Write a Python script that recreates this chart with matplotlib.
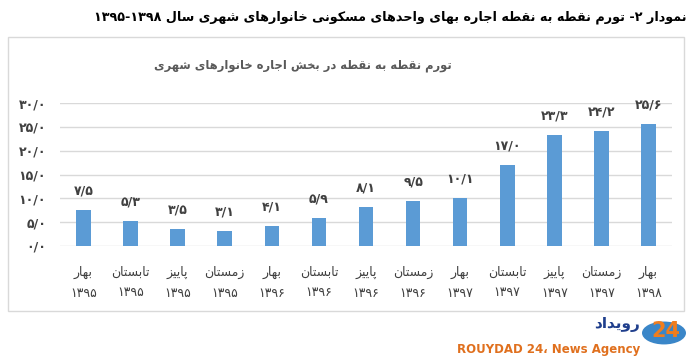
import matplotlib
matplotlib.use("Agg")
import matplotlib.pyplot as plt
from matplotlib.patches import Rectangle, Circle

# data
seasons = ["بهار", "تابستان", "پاییز", "زمستان",
           "بهار", "تابستان", "پاییز", "زمستان",
           "بهار", "تابستان", "پاییز", "زمستان",
           "بهار"]
years = ["1395", "1395", "1395", "1395",
         "1396", "1396", "1396", "1396",
         "1397", "1397", "1397", "1397",
         "1398"]
values = [7.5, 5.3, 3.5, 3.1, 4.1, 5.9, 8.1, 9.5, 10.1, 17.0, 23.3, 24.2, 25.6]
yticks = [0, 5, 10, 15, 20, 25, 30]

title_text = "تورم نقطه به نقطه اجاره بهای واحدهای مسکونی خانوارهای شهری سال"
title_head = "نمودار"
title_years = "1395-1398"
subtitle_text = "تورم نقطه به نقطه در بخش اجاره خانوارهای شهری"

BAR = "#5B9BD5"
GRID = "#D9D9D9"
TXT = "#404040"

# --- minimal Persian shaping (matplotlib 3.10 has no complex text layout)
FORMS = {
    "\u0627": ("\uFE8D", "\uFE8E", None, None),
    "\u0628": ("\uFE8F", "\uFE90", "\uFE91", "\uFE92"),
    "\u067E": ("\uFB56", "\uFB57", "\uFB58", "\uFB59"),
    "\u062A": ("\uFE95", "\uFE96", "\uFE97", "\uFE98"),
    "\u062C": ("\uFE9D", "\uFE9E", "\uFE9F", "\uFEA0"),
    "\u062D": ("\uFEA1", "\uFEA2", "\uFEA3", "\uFEA4"),
    "\u062E": ("\uFEA5", "\uFEA6", "\uFEA7", "\uFEA8"),
    "\u062F": ("\uFEA9", "\uFEAA", None, None),
    "\u0631": ("\uFEAD", "\uFEAE", None, None),
    "\u0632": ("\uFEAF", "\uFEB0", None, None),
    "\u0633": ("\uFEB1", "\uFEB2", "\uFEB3", "\uFEB4"),
    "\u0634": ("\uFEB5", "\uFEB6", "\uFEB7", "\uFEB8"),
    "\u0637": ("\uFEC1", "\uFEC2", "\uFEC3", "\uFEC4"),
    "\u0642": ("\uFED5", "\uFED6", "\uFED7", "\uFED8"),
    "\u06A9": ("\uFB8E", "\uFB8F", "\uFB90", "\uFB91"),
    "\u0644": ("\uFEDD", "\uFEDE", "\uFEDF", "\uFEE0"),
    "\u0645": ("\uFEE1", "\uFEE2", "\uFEE3", "\uFEE4"),
    "\u0646": ("\uFEE5", "\uFEE6", "\uFEE7", "\uFEE8"),
    "\u0647": ("\uFEE9", "\uFEEA", "\uFEEB", "\uFEEC"),
    "\u0648": ("\uFEED", "\uFEEE", None, None),
    "\u06CC": ("\uFBFC", "\uFBFD", "\uFBFE", "\uFBFF"),
}


def fa(s):
    s = s.replace("\u064A", "\u06CC").replace("\u0643", "\u06A9")
    out = []
    prev_joins = False
    for i, ch in enumerate(s):
        if ch in FORMS:
            iso, fin, ini, med = FORMS[ch]
            nxt = s[i + 1] if i + 1 < len(s) else ""
            next_join = ini is not None and nxt in FORMS
            if prev_joins and next_join:
                out.append(med)
            elif prev_joins:
                out.append(fin)
            elif next_join:
                out.append(ini)
            else:
                out.append(iso)
            prev_joins = ini is not None
        else:
            out.append(ch)
            prev_joins = False
    return "".join(out)[::-1]


PDIG = str.maketrans("0123456789.", "\u06F0\u06F1\u06F2\u06F3\u06F4\u06F5\u06F6\u06F7\u06F8\u06F9/")


def pnum(s):
    return s.translate(PDIG)


W, H = 692, 360
fig = plt.figure(figsize=(W / 100, H / 100), dpi=100)
fig.patch.set_facecolor("white")


def fx(px):
    return px / W


def fy(py):
    return 1 - py / H


# outer chart frame
fig.patches.append(Rectangle((fx(8), fy(311)), fx(684) - fx(8), fy(37) - fy(311),
                             transform=fig.transFigure, fill=False,
                             edgecolor="#D9D9D9", linewidth=1.0))

# main title
fig.text(fx(686), fy(17),
         pnum(title_years) + " " + fa(title_text) + " -" + pnum("2") + " " + fa(title_head),
         ha="right", va="center", fontsize=9.2, fontweight="bold", color="black")

# chart title
fig.text(fx(303), fy(66), fa(subtitle_text), ha="center", va="center",
         fontsize=8.3, fontweight="bold", color="#595959")

ax = fig.add_axes([fx(60), fy(246), fx(672) - fx(60), fy(103) - fy(246)])
x = list(range(len(values)))
ax.bar(x, values, width=0.31, color=BAR, zorder=3)
ax.set_xlim(-0.5, len(values) - 0.5)
ax.set_ylim(0, 30)
ax.set_yticks(yticks)
ax.set_yticklabels([pnum(f"{v:.1f}") for v in yticks], fontsize=9,
                   fontweight="bold", color=TXT)
ax.set_xticks(x)
ax.set_xticklabels([fa(s) + "\n" + pnum(y) for s, y in zip(seasons, years)],
                   fontsize=9, color=TXT, linespacing=1.8)
ax.tick_params(axis="both", length=0)
ax.tick_params(axis="x", pad=14)
ax.tick_params(axis="y", pad=10)
ax.grid(axis="y", color=GRID, linewidth=1.0, zorder=0)
for sp in ax.spines.values():
    sp.set_visible(False)

for xi, v in zip(x, values):
    ax.annotate(pnum(f"{v:.1f}"), (xi, v), xytext=(0, 9), textcoords="offset points",
                ha="center", va="bottom", fontsize=9, fontweight="bold", color=TXT,
                annotation_clip=False)

# agency logo
fig.patches.append(Circle((fx(664), fy(333)), 22 / W, transform=fig.transFigure,
                          facecolor="#3A86C8", edgecolor="none"))
fig.text(fx(666), fy(331), "24", ha="center", va="center", fontsize=15,
         fontweight="bold", color="#F07D1E")
fig.text(fx(640), fy(325), fa("رویداد"), ha="right", va="center", fontsize=11,
         fontweight="bold", color="#1F3E8C")
fig.text(fx(640), fy(350), "ROUYDAD 24\u060C News Agency", ha="right", va="center",
         fontsize=8.5, fontweight="bold", color="#E0701E")

fig.savefig("out.png", dpi=100)
